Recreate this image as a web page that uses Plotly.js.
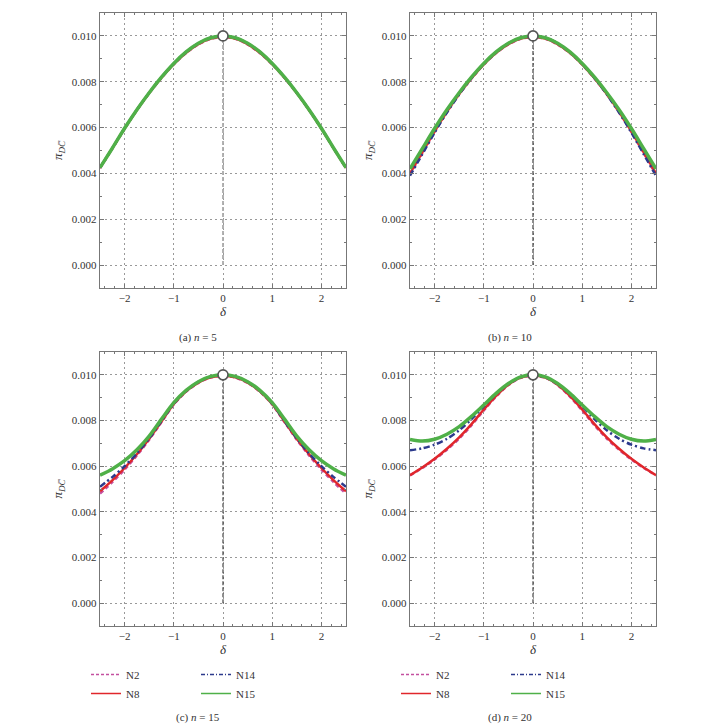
<!DOCTYPE html>
<html>
<head>
<meta charset="utf-8">
<script src="https://cdn.plot.ly/plotly-3.0.1.min.js"></script>
<style>
  html, body { margin: 0; padding: 0; background: #fff; }
  #plot { width: 724px; height: 727px; }
</style>
</head>
<body>
<div id="plot"></div>
<script>
// delta grid shared by all panels
const delta = [-2.5, -2.25, -2, -1.75, -1.5, -1.25, -1, -0.75, -0.5, -0.25, 0,
               0.25, 0.5, 0.75, 1, 1.25, 1.5, 1.75, 2, 2.25, 2.5];

// (a) n = 5
const a_N2  = [0.00423, 0.00508, 0.00595, 0.00676, 0.00750, 0.00817, 0.00876, 0.00925, 0.00963, 0.00987, 0.00995, 0.00987, 0.00963, 0.00925, 0.00876, 0.00817, 0.00750, 0.00676, 0.00595, 0.00508, 0.00423];
const a_N8  = [0.00424, 0.00509, 0.00596, 0.00677, 0.00751, 0.00818, 0.00877, 0.00926, 0.00964, 0.00988, 0.00996, 0.00988, 0.00964, 0.00926, 0.00877, 0.00818, 0.00751, 0.00677, 0.00596, 0.00509, 0.00424];
const a_N14 = [0.00425, 0.00510, 0.00597, 0.00678, 0.00752, 0.00820, 0.00880, 0.00930, 0.00968, 0.00992, 0.01000, 0.00992, 0.00968, 0.00930, 0.00880, 0.00820, 0.00752, 0.00678, 0.00597, 0.00510, 0.00425];
const a_N15 = [0.00425, 0.00510, 0.00597, 0.00678, 0.00752, 0.00820, 0.00880, 0.00930, 0.00968, 0.00992, 0.01000, 0.00992, 0.00968, 0.00930, 0.00880, 0.00820, 0.00752, 0.00678, 0.00597, 0.00510, 0.00425];

// (b) n = 10
const b_N2  = [0.00395, 0.00488, 0.00581, 0.00667, 0.00745, 0.00814, 0.00875, 0.00925, 0.00963, 0.00987, 0.00995, 0.00987, 0.00963, 0.00925, 0.00875, 0.00814, 0.00745, 0.00667, 0.00581, 0.00488, 0.00395];
const b_N8  = [0.00400, 0.00492, 0.00584, 0.00669, 0.00746, 0.00815, 0.00876, 0.00926, 0.00964, 0.00988, 0.00996, 0.00988, 0.00964, 0.00926, 0.00876, 0.00815, 0.00746, 0.00669, 0.00584, 0.00492, 0.00400];
const b_N14 = [0.00390, 0.00484, 0.00578, 0.00666, 0.00745, 0.00816, 0.00878, 0.00929, 0.00968, 0.00992, 0.01000, 0.00992, 0.00968, 0.00929, 0.00878, 0.00816, 0.00745, 0.00666, 0.00578, 0.00484, 0.00390];
const b_N15 = [0.00420, 0.00508, 0.00596, 0.00678, 0.00752, 0.00820, 0.00880, 0.00930, 0.00968, 0.00992, 0.01000, 0.00992, 0.00968, 0.00930, 0.00880, 0.00820, 0.00752, 0.00678, 0.00596, 0.00508, 0.00420];

// (c) n = 15
const c_N2  = [0.00480, 0.00530, 0.00585, 0.00647, 0.00716, 0.00793, 0.00870, 0.00926, 0.00965, 0.00988, 0.00995, 0.00988, 0.00965, 0.00926, 0.00870, 0.00793, 0.00716, 0.00647, 0.00585, 0.00530, 0.00480];
const c_N8  = [0.00490, 0.00538, 0.00592, 0.00652, 0.00720, 0.00796, 0.00872, 0.00928, 0.00966, 0.00989, 0.00996, 0.00989, 0.00966, 0.00928, 0.00872, 0.00796, 0.00720, 0.00652, 0.00592, 0.00538, 0.00490];
const c_N14 = [0.00510, 0.00552, 0.00600, 0.00656, 0.00722, 0.00798, 0.00874, 0.00930, 0.00969, 0.00992, 0.01000, 0.00992, 0.00969, 0.00930, 0.00874, 0.00798, 0.00722, 0.00656, 0.00600, 0.00552, 0.00510];
const c_N15 = [0.00560, 0.00588, 0.00624, 0.00672, 0.00732, 0.00806, 0.00878, 0.00932, 0.00970, 0.00993, 0.01000, 0.00993, 0.00970, 0.00932, 0.00878, 0.00806, 0.00732, 0.00672, 0.00624, 0.00588, 0.00560];

// (d) n = 20
const d_N2  = [0.00560, 0.00592, 0.00629, 0.00672, 0.00721, 0.00779, 0.00844, 0.00905, 0.00955, 0.00987, 0.00996, 0.00987, 0.00955, 0.00905, 0.00844, 0.00779, 0.00721, 0.00672, 0.00629, 0.00592, 0.00560];
const d_N8  = [0.00560, 0.00594, 0.00632, 0.00676, 0.00726, 0.00784, 0.00848, 0.00908, 0.00957, 0.00988, 0.00997, 0.00988, 0.00957, 0.00908, 0.00848, 0.00784, 0.00726, 0.00676, 0.00632, 0.00594, 0.00560];
const d_N14 = [0.00670, 0.00678, 0.00694, 0.00720, 0.00757, 0.00806, 0.00862, 0.00916, 0.00960, 0.00990, 0.01000, 0.00990, 0.00960, 0.00916, 0.00862, 0.00806, 0.00757, 0.00720, 0.00694, 0.00678, 0.00670];
const d_N15 = [0.00717, 0.00710, 0.00718, 0.00740, 0.00773, 0.00818, 0.00868, 0.00919, 0.00962, 0.00991, 0.01000, 0.00991, 0.00962, 0.00919, 0.00868, 0.00818, 0.00773, 0.00740, 0.00718, 0.00710, 0.00717];

// peak marker and reference line
const peakX = [0, 0];
const peakY = [0, 0.010];
const markX = [0];
const markY = [0.010];

const names = ['N2', 'N8', 'N14', 'N15'];
const panels = [
  { series: [a_N2, a_N8, a_N14, a_N15], x: 'x',  y: 'y',  legends: null, vcolor: '#aaa', vw: 1.8 },
  { series: [b_N2, b_N8, b_N14, b_N15], x: 'x2', y: 'y2', legends: null, vcolor: '#444', vw: 1.2 },
  { series: [c_N2, c_N8, c_N14, c_N15], x: 'x3', y: 'y3', legends: ['legend', 'legend', 'legend2', 'legend2'], vcolor: '#444', vw: 1.2 },
  { series: [d_N2, d_N8, d_N14, d_N15], x: 'x4', y: 'y4', legends: ['legend3', 'legend3', 'legend4', 'legend4'], vcolor: '#444', vw: 1.2 }
];

const styles = [
  { color: '#c4509f', width: 2.5, dash: '4px,3px' },
  { color: '#e0262b', width: 2.5, dash: 'solid' },
  { color: '#2c3a8c', width: 2.5, dash: '6px,3px,2px,3px' },
  { color: '#4fb048', width: 3.5, dash: 'solid' }
];

const traces = [];
panels.forEach(p => {
  traces.push({
    x: peakX, y: peakY, xaxis: p.x, yaxis: p.y, mode: 'lines', showlegend: false,
    line: { color: p.vcolor, width: p.vw, dash: '4px,2px' }, hoverinfo: 'skip'
  });
  p.series.forEach((vals, i) => {
    traces.push({
      x: delta, y: vals, xaxis: p.x, yaxis: p.y, type: 'scatter', mode: 'lines',
      name: names[i], line: Object.assign({ shape: 'spline', smoothing: 0.8 }, styles[i]),
      showlegend: false
    });
    // thin legend key (no data, just the entry)
    if (p.legends) {
      traces.push({
        x: [null], y: [null], xaxis: p.x, yaxis: p.y, type: 'scatter', mode: 'lines',
        name: names[i], legend: p.legends[i], showlegend: true,
        line: { color: styles[i].color, width: 1.5, dash: i === 2 ? '4px,2px,1px,2px' : (i === 0 ? '3px,2px' : 'solid') }
      });
    }
  });
  traces.push({
    x: markX, y: markY, xaxis: p.x, yaxis: p.y, mode: 'markers', showlegend: false,
    marker: { symbol: 'circle', size: 10, color: '#fff', line: { color: '#555', width: 1.6 } }
  });
});

const W = 724, H = 727;
const colX = [[100 / W, 346 / W], [410 / W, 656 / W]];
const rowY = [[1 - 288 / H, 1 - 13 / H], [1 - 626 / H, 1 - 352 / H]];

function xAx(dom, anchor) {
  return {
    domain: dom, anchor: anchor, range: [-2.5, 2.5], dtick: 1, tick0: 0,
    showline: true, mirror: 'ticks', linecolor: '#777', linewidth: 1.2,
    ticks: 'inside', ticklen: 4, tickcolor: '#777',
    minor: { ticks: 'inside', ticklen: 2, dtick: 0.2, tickcolor: '#777' },
    showgrid: true, gridcolor: '#999', griddash: '1.5px,3.5px', gridwidth: 1, zeroline: false,
    tickfont: { size: 11 },
    title: { text: '<i>δ</i>', font: { size: 13 }, standoff: 3 }
  };
}
function yAx(dom, anchor) {
  return {
    domain: dom, anchor: anchor, range: [-0.001, 0.011], dtick: 0.002, tick0: 0,
    tickformat: '.3f',
    showline: true, mirror: 'ticks', linecolor: '#777', linewidth: 1.2,
    ticks: 'inside', ticklen: 4, tickcolor: '#777',
    minor: { ticks: 'inside', ticklen: 2, dtick: 0.001, tickcolor: '#777' },
    showgrid: true, gridcolor: '#999', griddash: '1.5px,3.5px', gridwidth: 1, zeroline: false,
    tickfont: { size: 11 },
    title: { text: '<i>π</i><sub><i>DC\u0305</i></sub>', font: { size: 13 }, standoff: 6 }
  };
}

function leg(xpx, ypx) {
  return {
    x: xpx / W, y: 1 - ypx / H, xanchor: 'left', yanchor: 'top',
    orientation: 'v', bgcolor: 'rgba(0,0,0,0)', borderwidth: 0,
    font: { size: 11, color: '#333' }, itemwidth: 30, tracegroupgap: 0
  };
}

const caption = (x, y, txt) => ({
  xref: 'paper', yref: 'paper', x: x / W, y: 1 - y / H, text: txt, showarrow: false,
  xanchor: 'center', yanchor: 'middle', font: { size: 11, color: '#333' }
});

const layout = {
  width: W, height: H,
  margin: { l: 0, r: 0, t: 0, b: 0 },
  paper_bgcolor: '#fff', plot_bgcolor: '#fff',
  font: { family: 'Liberation Serif, Times New Roman, serif', size: 11, color: '#333' },
  showlegend: true,
  xaxis:  xAx(colX[0], 'y'),  yaxis:  yAx(rowY[0], 'x'),
  xaxis2: xAx(colX[1], 'y2'), yaxis2: yAx(rowY[0], 'x2'),
  xaxis3: xAx(colX[0], 'y3'), yaxis3: yAx(rowY[1], 'x3'),
  xaxis4: xAx(colX[1], 'y4'), yaxis4: yAx(rowY[1], 'x4'),
  legend:  leg(86, 660),
  legend2: leg(196, 660),
  legend3: leg(396, 660),
  legend4: leg(506, 660),
  annotations: [
    caption(198, 338, '(a) <i>n</i> = 5'),
    caption(510, 338, '(b) <i>n</i> = 10'),
    caption(198, 717, '(c) <i>n</i> = 15'),
    caption(510, 717, '(d) <i>n</i> = 20')
  ]
};

Plotly.newPlot('plot', traces, layout, { displayModeBar: false, staticPlot: true });
</script>
</body>
</html>
